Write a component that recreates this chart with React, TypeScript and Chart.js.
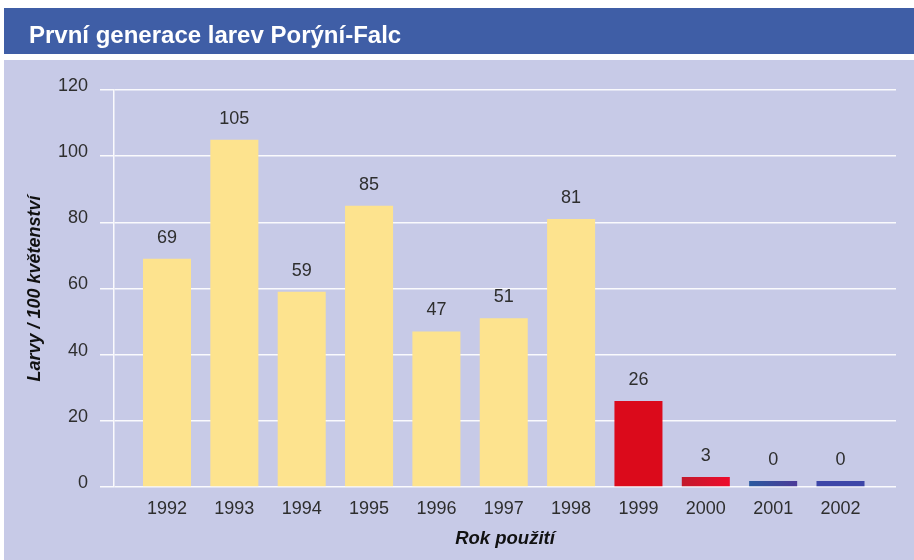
import { useEffect, useRef } from 'react';
import { Chart, registerables } from 'chart.js';

Chart.register(...registerables);

const titleText = 'První generace larev Porýní-Falc';
const xAxisTitle = 'Rok použití';
const yAxisTitle = 'Larvy / 100 květenství';

const years = ['1992', '1993', '1994', '1995', '1996', '1997', '1998', '1999', '2000', '2001', '2002'];
const larvae = [69, 105, 59, 85, 47, 51, 81, 26, 3, 0, 0];
const yTickValues = [0, 20, 40, 60, 80, 100, 120];

const barColors = [
  '#FDE38E', '#FDE38E', '#FDE38E', '#FDE38E', '#FDE38E', '#FDE38E', '#FDE38E',
  '#DB0A1B', '#D8102A', '#3A4CA0', '#3C45A8',
];
const barGradients: Record<number, [string, string]> = {
  8: ['#C21A2C', '#EE0A2C'],
  9: ['#2A5A9E', '#4C3A98'],
};

const FONT = '"Liberation Sans", Arial, Helvetica, sans-serif';

const backgroundPlugin = {
  id: 'panelBackground',
  beforeDraw(chart: any) {
    const { ctx, width, height } = chart;
    ctx.save();
    ctx.fillStyle = '#FFFFFF';
    ctx.fillRect(0, 0, width, height);
    ctx.fillStyle = '#3F5EA6';
    ctx.fillRect(4, 8, width - 4, 46);
    ctx.fillStyle = '#C7CAE7';
    ctx.fillRect(4, 60, width - 4, height - 60);
    ctx.fillStyle = '#FFFFFF';
    ctx.font = `bold 24px ${FONT}`;
    ctx.textAlign = 'left';
    ctx.textBaseline = 'alphabetic';
    ctx.fillText(titleText, 29, 43);
    ctx.restore();
  },
};

const valueLabelPlugin = {
  id: 'valueLabels',
  afterDatasetsDraw(chart: any) {
    const { ctx } = chart;
    const meta = chart.getDatasetMeta(0);
    ctx.save();
    ctx.fillStyle = '#2E2E2E';
    ctx.font = `18px ${FONT}`;
    ctx.textAlign = 'center';
    ctx.textBaseline = 'middle';
    meta.data.forEach((bar: any, i: number) => {
      ctx.fillText(String(larvae[i]), bar.x, bar.y - 21);
    });
    ctx.restore();
  },
};

export default function App() {
  const canvasRef = useRef<HTMLCanvasElement | null>(null);

  useEffect(() => {
    if (!canvasRef.current) return;
    const chart = new Chart(canvasRef.current, {
      type: 'bar',
      data: {
        datasets: [
          {
            data: larvae.map((v, i) => ({ x: i, y: v })),
            backgroundColor: (c: any) => {
              const i = c.dataIndex;
              const g = barGradients[i];
              const chartRef = c.chart;
              if (!g || !chartRef.chartArea || !chartRef.scales.x) return barColors[i];
              const cx = chartRef.scales.x.getPixelForValue(i);
              const grad = chartRef.ctx.createLinearGradient(cx - 24, 0, cx + 24, 0);
              grad.addColorStop(0, g[0]);
              grad.addColorStop(1, g[1]);
              return grad;
            },
            borderWidth: 0,
            categoryPercentage: 1,
            barPercentage: 0.713,
            minBarLength: 6,
          },
        ],
      },
      options: {
        animation: false,
        responsive: false,
        layout: { padding: { left: 0, top: 90, right: 18, bottom: 0 } },
        plugins: {
          legend: { display: false },
          title: { display: false },
          tooltip: { enabled: false },
        },
        scales: {
          x: {
            type: 'linear',
            offset: false,
            min: -0.787,
            max: 10.824,
            afterBuildTicks: (scale: any) => {
              scale.ticks = years.map((_, i) => ({ value: i }));
            },
            afterFit: (scale: any) => {
              scale.height = 73;
            },
            grid: { display: false, drawTicks: false, offset: false },
            border: { display: false },
            ticks: {
              autoSkip: false,
              padding: 11,
              color: '#2E2E2E',
              font: { family: FONT, size: 18 },
              callback: (v: any) => years[Math.round(Number(v))] ?? '',
            },
            title: {
              display: true,
              text: xAxisTitle,
              color: '#111111',
              font: { family: FONT, size: 18.5, weight: 'bold', style: 'italic' },
              padding: { top: 0, bottom: 10 },
            },
          },
          y: {
            min: 0,
            max: 120,
            afterBuildTicks: (scale: any) => {
              scale.ticks = yTickValues.map((v) => ({ value: v }));
            },
            afterFit: (scale: any) => {
              scale.width = 114;
            },
            grid: {
              color: 'rgba(255,255,255,0.9)',
              lineWidth: 1.5,
              drawTicks: true,
              tickLength: 14,
              tickColor: 'rgba(255,255,255,0.9)',
            },
            border: { display: true, color: 'rgba(255,255,255,0.9)', width: 1.5 },
            ticks: {
              padding: 12,
              labelOffset: -4,
              color: '#2E2E2E',
              font: { family: FONT, size: 18 },
            },
            title: {
              display: true,
              text: yAxisTitle,
              color: '#111111',
              font: { family: FONT, size: 18, weight: 'bold', style: 'italic' },
              padding: { top: 24, bottom: 0 },
            },
          },
        },
      } as any,
      plugins: [backgroundPlugin, valueLabelPlugin],
    });
    return () => chart.destroy();
  }, []);

  return (
    <div style={{ position: 'absolute', left: 0, top: 0, width: 914, height: 560 }}>
      <canvas ref={canvasRef} width={914} height={560} style={{ display: 'block' }} />
    </div>
  );
}
